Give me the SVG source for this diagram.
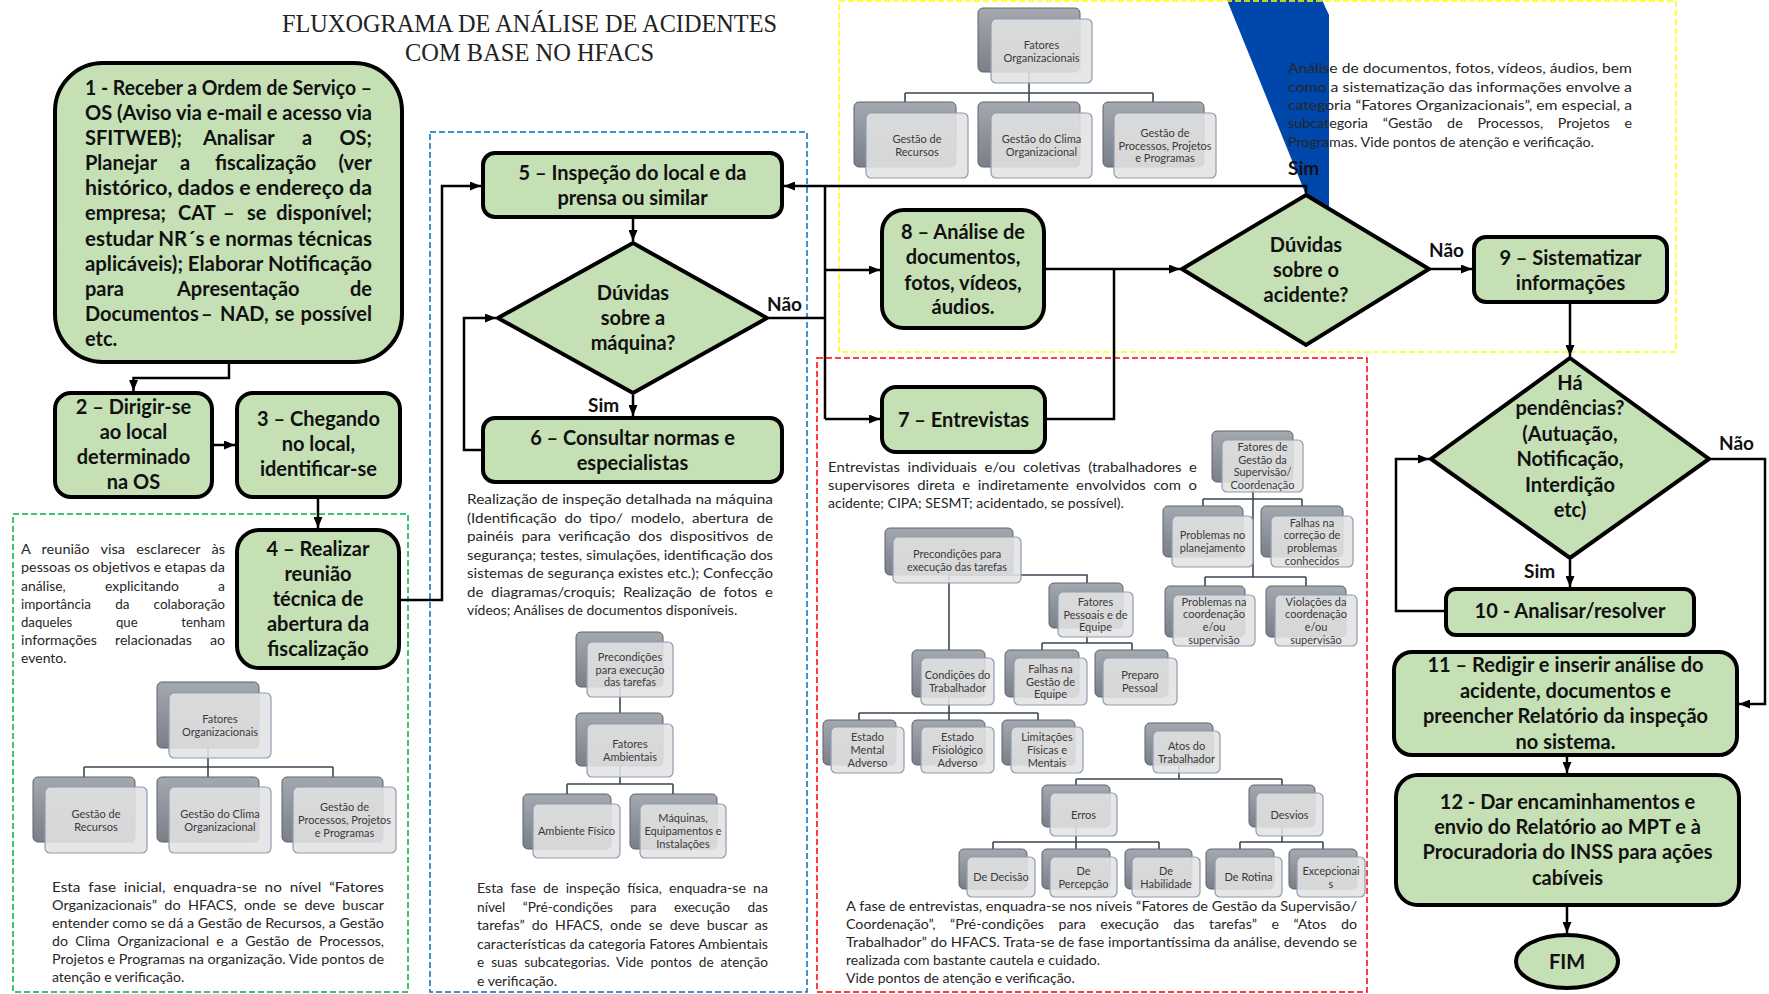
<svg xmlns="http://www.w3.org/2000/svg" width="1769" height="994" viewBox="0 0 1769 994">
<style>
.n{fill:#c5e0b4;stroke:#000;stroke-width:4}
.t{font-family:Lato,'Liberation Sans',sans-serif;font-weight:700;font-size:20px;fill:#111}
.c{text-anchor:middle}
.e{text-anchor:end}
.p{font-family:Lato,'Liberation Sans',sans-serif;font-size:14px;fill:#262626}
.lb{font-family:Lato,'Liberation Sans',sans-serif;font-weight:700;font-size:19px;fill:#111}
.k{fill:none;stroke:#000;stroke-width:2.5}
.ka{marker-end:url(#ah)}
.bk{fill:url(#gb);stroke:#5c636e;stroke-width:1}
.fr{fill:#e3e3e3;fill-opacity:.88;stroke:#8d9cb0;stroke-width:1.2}
.ct{font-family:Lato,'Liberation Sans',sans-serif;font-size:11px;fill:#3a3a3a;text-anchor:middle}
.cl{fill:none;stroke:#3b4654;stroke-width:1.6}
.db{fill:none;stroke-width:1.5;stroke-dasharray:6 3}
.ti{font-family:'Liberation Serif',serif;font-size:26px;fill:#222;text-anchor:middle}
</style>
<defs>
<linearGradient id="gb" x1="0" y1="0" x2="0" y2="1"><stop offset="0" stop-color="#a4a8af"/><stop offset="1" stop-color="#7a7f88"/></linearGradient>
<marker id="ah" markerUnits="userSpaceOnUse" markerWidth="11" markerHeight="9" refX="11" refY="4.5" orient="auto"><path d="M0,0 L11,4.5 L0,9 z" fill="#000"/></marker>
</defs>
<rect width="1769" height="994" fill="#fff"/>

<!-- blue decorative shape -->
<path d="M1227,0 L1322,0 L1329,15 L1329,215 L1306,195 Z" fill="#0047ab"/>

<!-- dashed regions -->
<rect class="db" x="839" y="1" width="837" height="351" stroke="#ffff00"/>
<rect class="db" x="13" y="514" width="395" height="478" stroke="#00b050"/>
<rect class="db" x="430" y="132" width="377" height="860" stroke="#0070c0"/>
<rect class="db" x="817" y="358" width="550" height="634" stroke="#ff0000"/>

<!-- title -->
<g id="title">
<text class="ti" x="529.5" y="32" textLength="495" lengthAdjust="spacingAndGlyphs">FLUXOGRAMA DE ANÁLISE DE ACIDENTES</text>
<text class="ti" x="529.5" y="61" textLength="249" lengthAdjust="spacingAndGlyphs">COM BASE NO HFACS</text>
</g>

<!-- paragraphs -->
<g id="text-yellow" class="p">
<text x="1288" y="73" textLength="344" lengthAdjust="spacingAndGlyphs">Análise de documentos, fotos, vídeos, áudios, bem</text>
<text x="1288" y="92" textLength="344" lengthAdjust="spacingAndGlyphs">como a sistematização das informações envolve a</text>
<text x="1288" y="110" textLength="344" lengthAdjust="spacingAndGlyphs">categoria “Fatores Organizacionais”, em especial, a</text>
<text x="1288" y="128" textLength="344" lengthAdjust="spacingAndGlyphs" xml:space="preserve">subcategoria    “Gestão    de    Processos,    Projetos    e</text>
<text x="1288" y="147" textLength="306" lengthAdjust="spacingAndGlyphs">Programas. Vide pontos de atenção e verificação.</text>
</g>

<g id="text-green" class="p">
<text x="21" y="554" textLength="204" lengthAdjust="spacingAndGlyphs" xml:space="preserve">A   reunião   visa   esclarecer   às</text>
<text x="21" y="572" textLength="204" lengthAdjust="spacingAndGlyphs">pessoas os objetivos e etapas da</text>
<text x="21" y="591" textLength="204" lengthAdjust="spacingAndGlyphs" xml:space="preserve">análise,           explicitando           a</text>
<text x="21" y="609" textLength="204" lengthAdjust="spacingAndGlyphs" xml:space="preserve">importância       da       colaboração</text>
<text x="21" y="627" textLength="204" lengthAdjust="spacingAndGlyphs" xml:space="preserve">daqueles             que             tenham</text>
<text x="21" y="645" textLength="204" lengthAdjust="spacingAndGlyphs" xml:space="preserve">informações     relacionadas     ao</text>
<text x="21" y="663">evento.</text>

<text x="52" y="892" textLength="332" lengthAdjust="spacingAndGlyphs" xml:space="preserve">Esta  fase  inicial,  enquadra-se  no  nível  “Fatores</text>
<text x="52" y="910" textLength="332" lengthAdjust="spacingAndGlyphs" xml:space="preserve">Organizacionais”  do  HFACS,  onde  se  deve  buscar</text>
<text x="52" y="928" textLength="332" lengthAdjust="spacingAndGlyphs">entender como se dá a Gestão de Recursos, a Gestão</text>
<text x="52" y="946" textLength="332" lengthAdjust="spacingAndGlyphs" xml:space="preserve">do  Clima  Organizacional  e  a  Gestão  de  Processos,</text>
<text x="52" y="964" textLength="332" lengthAdjust="spacingAndGlyphs">Projetos e Programas na organização. Vide pontos de</text>
<text x="52" y="982">atenção e verificação.</text>
</g>

<g id="text-blue" class="p">
<text x="467" y="504" textLength="306" lengthAdjust="spacingAndGlyphs">Realização de inspeção detalhada na máquina</text>
<text x="467" y="522.5" textLength="306" lengthAdjust="spacingAndGlyphs" xml:space="preserve">(Identificação  do  tipo/  modelo,  abertura  de</text>
<text x="467" y="541" textLength="306" lengthAdjust="spacingAndGlyphs" xml:space="preserve">painéis  para  verificação  dos  dispositivos  de</text>
<text x="467" y="559.5" textLength="306" lengthAdjust="spacingAndGlyphs">segurança; testes, simulações, identificação dos</text>
<text x="467" y="578" textLength="306" lengthAdjust="spacingAndGlyphs">sistemas de segurança existes etc.); Confecção</text>
<text x="467" y="596.5" textLength="306" lengthAdjust="spacingAndGlyphs" xml:space="preserve">de  diagramas/croquis;  Realização  de  fotos  e</text>
<text x="467" y="615">vídeos; Análises de documentos disponíveis.</text>

<text x="477" y="893" textLength="291" lengthAdjust="spacingAndGlyphs" xml:space="preserve">Esta  fase  de  inspeção  física,  enquadra-se  na</text>
<text x="477" y="911.5" textLength="291" lengthAdjust="spacingAndGlyphs" xml:space="preserve">nível     “Pré-condições     para     execução     das</text>
<text x="477" y="930" textLength="291" lengthAdjust="spacingAndGlyphs" xml:space="preserve">tarefas”  do  HFACS,  onde  se  deve  buscar  as</text>
<text x="477" y="948.5" textLength="291" lengthAdjust="spacingAndGlyphs">características da categoria Fatores Ambientais</text>
<text x="477" y="967" textLength="291" lengthAdjust="spacingAndGlyphs" xml:space="preserve">e  suas  subcategorias.  Vide  pontos  de  atenção</text>
<text x="477" y="985.5">e verificação.</text>
</g>

<g id="text-red" class="p">
<text x="828" y="472" textLength="369" lengthAdjust="spacingAndGlyphs" xml:space="preserve">Entrevistas  individuais  e/ou  coletivas  (trabalhadores  e</text>
<text x="828" y="490" textLength="369" lengthAdjust="spacingAndGlyphs" xml:space="preserve">supervisores  direta  e  indiretamente  envolvidos  com  o</text>
<text x="828" y="508">acidente; CIPA; SESMT; acidentado, se possível).</text>

<text x="846" y="911" textLength="511" lengthAdjust="spacingAndGlyphs">A fase de entrevistas, enquadra-se nos níveis “Fatores de Gestão da Supervisão/</text>
<text x="846" y="929" textLength="511" lengthAdjust="spacingAndGlyphs" xml:space="preserve">Coordenação”,    “Pré-condições    para    execução    das    tarefas”    e    “Atos    do</text>
<text x="846" y="947" textLength="511" lengthAdjust="spacingAndGlyphs">Trabalhador” do HFACS. Trata-se de fase importantíssima da análise, devendo se</text>
<text x="846" y="965">realizada com bastante cautela e cuidado.</text>
<text x="846" y="983">Vide pontos de atenção e verificação.</text>
</g>

<!-- HFACS chart lines -->
<g id="chart-lines" class="cl">
<path d="M208,748 V767 M84,767 H333 M84,767 V777 M208,767 V777 M333,767 V777"/>
<path d="M1029,72 V93 M905,93 H1153 M905,93 V102 M1029,93 V102 M1153,93 V102"/>
<path d="M620,687 V713 M620,766 V784 M567,784 H673 M567,784 V794 M673,784 V794"/>
<path d="M1253,482 V577 M1203,499 H1302 M1203,499 V506 M1302,499 V506 M1205,577 H1306 M1205,577 V586 M1306,577 V586"/>
<path d="M949,575 V713 M949,575 H1087 V583 M1087,628 V643 M1042,643 H1132 M1042,643 V650 M1132,643 V650 M859,713 H1038 M859,713 V720 M949,713 V720 M1038,713 V720"/>
<path d="M1179,765 V779 M1076,779 H1282 M1076,779 V785 M1282,779 V785 M1076,827 V842 M993,842 H1159 M993,842 V849 M1076,842 V849 M1159,842 V849 M1282,827 V842 M1240,842 H1323 M1240,842 V849 M1323,842 V849"/>
</g>

<!-- green chart -->
<g id="g-fo"><rect class="bk" x="157" y="682" width="102" height="66" rx="5"/><rect class="fr" x="169" y="693" width="102" height="65" rx="5"/><text class="ct" x="220" y="723">Fatores</text><text class="ct" x="220" y="736">Organizacionais</text></g>
<g id="g-gr"><rect class="bk" x="33" y="777" width="102" height="65" rx="5"/><rect class="fr" x="45" y="787" width="102" height="66" rx="5"/><text class="ct" x="96" y="817.5">Gestão de</text><text class="ct" x="96" y="830.5">Recursos</text></g>
<g id="g-gc"><rect class="bk" x="157" y="777" width="102" height="65" rx="5"/><rect class="fr" x="169" y="787" width="102" height="66" rx="5"/><text class="ct" x="220" y="817.5">Gestão do Clima</text><text class="ct" x="220" y="830.5">Organizacional</text></g>
<g id="g-gp"><rect class="bk" x="282" y="777" width="101" height="65" rx="5"/><rect class="fr" x="293" y="787" width="103" height="66" rx="5"/><text class="ct" x="344.5" y="811.3">Gestão de</text><text class="ct" x="344.5" y="824">Processos, Projetos</text><text class="ct" x="344.5" y="836.7">e Programas</text></g>

<!-- yellow chart -->
<g id="y-fo"><rect class="bk" x="978" y="8" width="102" height="64" rx="5"/><rect class="fr" x="991" y="19" width="101" height="64" rx="5"/><text class="ct" x="1041.5" y="48.5">Fatores</text><text class="ct" x="1041.5" y="61.5">Organizacionais</text></g>
<g id="y-gr"><rect class="bk" x="854" y="102" width="102" height="65" rx="5"/><rect class="fr" x="866" y="113" width="102" height="65" rx="5"/><text class="ct" x="917" y="143">Gestão de</text><text class="ct" x="917" y="156">Recursos</text></g>
<g id="y-gc"><rect class="bk" x="978" y="102" width="102" height="65" rx="5"/><rect class="fr" x="991" y="113" width="101" height="65" rx="5"/><text class="ct" x="1041.5" y="143">Gestão do Clima</text><text class="ct" x="1041.5" y="156">Organizacional</text></g>
<g id="y-gp"><rect class="bk" x="1103" y="102" width="101" height="65" rx="5"/><rect class="fr" x="1114" y="113" width="102" height="65" rx="5"/><text class="ct" x="1165" y="136.8">Gestão de</text><text class="ct" x="1165" y="149.5">Processos, Projetos</text><text class="ct" x="1165" y="162.2">e Programas</text></g>

<!-- blue chart -->
<g id="b-pre"><rect class="bk" x="576" y="632" width="87" height="55" rx="5"/><rect class="fr" x="587" y="642" width="86" height="55" rx="5"/><text class="ct" x="630" y="660.8">Precondições</text><text class="ct" x="630" y="673.5">para execução</text><text class="ct" x="630" y="686.2">das tarefas</text></g>
<g id="b-fa"><rect class="bk" x="576" y="713" width="87" height="53" rx="5"/><rect class="fr" x="587" y="724" width="86" height="53" rx="5"/><text class="ct" x="630" y="748">Fatores</text><text class="ct" x="630" y="761">Ambientais</text></g>
<g id="b-af"><rect class="bk" x="523" y="794" width="88" height="55" rx="5"/><rect class="fr" x="533" y="804" width="87" height="54" rx="5"/><text class="ct" x="576.5" y="835">Ambiente Físico</text></g>
<g id="b-mq"><rect class="bk" x="630" y="794" width="87" height="55" rx="5"/><rect class="fr" x="640" y="804" width="86" height="54" rx="5"/><text class="ct" x="683" y="822.3">Máquinas,</text><text class="ct" x="683" y="835">Equipamentos e</text><text class="ct" x="683" y="847.7">Instalações</text></g>

<!-- red charts -->
<g id="r-sup"><rect class="bk" x="1212" y="431" width="81" height="51" rx="5"/><rect class="fr" x="1222" y="440" width="81" height="52" rx="5"/><text class="ct" x="1262.5" y="451">Fatores de</text><text class="ct" x="1262.5" y="463.7">Gestão da</text><text class="ct" x="1262.5" y="476.3">Supervisão/</text><text class="ct" x="1262.5" y="489">Coordenação</text></g>
<g id="r-pp"><rect class="bk" x="1163" y="506" width="80" height="51" rx="5"/><rect class="fr" x="1172" y="516" width="81" height="51" rx="5"/><text class="ct" x="1212.5" y="539">Problemas no</text><text class="ct" x="1212.5" y="552">planejamento</text></g>
<g id="r-fc"><rect class="bk" x="1261" y="506" width="82" height="51" rx="5"/><rect class="fr" x="1271" y="516" width="82" height="51" rx="5"/><text class="ct" x="1312" y="526.5">Falhas na</text><text class="ct" x="1312" y="539.2">correção de</text><text class="ct" x="1312" y="551.8">problemas</text><text class="ct" x="1312" y="564.5">conhecidos</text></g>
<g id="r-pc"><rect class="bk" x="1165" y="586" width="80" height="51" rx="5"/><rect class="fr" x="1173" y="595" width="82" height="51" rx="5"/><text class="ct" x="1214" y="605.5">Problemas na</text><text class="ct" x="1214" y="618.2">coordenação</text><text class="ct" x="1214" y="630.8">e/ou</text><text class="ct" x="1214" y="643.5">supervisão</text></g>
<g id="r-vc"><rect class="bk" x="1266" y="586" width="80" height="51" rx="5"/><rect class="fr" x="1275" y="595" width="82" height="51" rx="5"/><text class="ct" x="1316" y="605.5">Violações da</text><text class="ct" x="1316" y="618.2">coordenação</text><text class="ct" x="1316" y="630.8">e/ou</text><text class="ct" x="1316" y="643.5">supervisão</text></g>
<g id="r-pre"><rect class="bk" x="885" y="528" width="128" height="47" rx="5"/><rect class="fr" x="893" y="537" width="128" height="46" rx="5"/><text class="ct" x="957" y="557.5">Precondições para</text><text class="ct" x="957" y="570.5">execução das tarefas</text></g>
<g id="r-fp"><rect class="bk" x="1049" y="583" width="74" height="45" rx="5"/><rect class="fr" x="1058" y="592" width="75" height="45" rx="5"/><text class="ct" x="1095.5" y="605.8">Fatores</text><text class="ct" x="1095.5" y="618.5">Pessoais e de</text><text class="ct" x="1095.5" y="631.2">Equipe</text></g>
<g id="r-fg"><rect class="bk" x="1005" y="650" width="74" height="47" rx="5"/><rect class="fr" x="1014" y="658" width="73" height="47" rx="5"/><text class="ct" x="1050.5" y="672.8">Falhas na</text><text class="ct" x="1050.5" y="685.5">Gestão de</text><text class="ct" x="1050.5" y="698.2">Equipe</text></g>
<g id="r-pr"><rect class="bk" x="1095" y="650" width="73" height="47" rx="5"/><rect class="fr" x="1103" y="658" width="74" height="47" rx="5"/><text class="ct" x="1140" y="679">Preparo</text><text class="ct" x="1140" y="692">Pessoal</text></g>
<g id="r-ct"><rect class="bk" x="912" y="650" width="73" height="47" rx="5"/><rect class="fr" x="921" y="658" width="73" height="47" rx="5"/><text class="ct" x="957.5" y="679">Condições do</text><text class="ct" x="957.5" y="692">Trabalhador</text></g>
<g id="r-em"><rect class="bk" x="823" y="720" width="73" height="45" rx="5"/><rect class="fr" x="831" y="727" width="73" height="46" rx="5"/><text class="ct" x="867.5" y="741.3">Estado</text><text class="ct" x="867.5" y="754">Mental</text><text class="ct" x="867.5" y="766.7">Adverso</text></g>
<g id="r-ef"><rect class="bk" x="912" y="720" width="73" height="45" rx="5"/><rect class="fr" x="921" y="727" width="73" height="46" rx="5"/><text class="ct" x="957.5" y="741.3">Estado</text><text class="ct" x="957.5" y="754">Fisiológico</text><text class="ct" x="957.5" y="766.7">Adverso</text></g>
<g id="r-lm"><rect class="bk" x="1002" y="720" width="73" height="45" rx="5"/><rect class="fr" x="1011" y="727" width="72" height="46" rx="5"/><text class="ct" x="1047" y="741.3">Limitações</text><text class="ct" x="1047" y="754">Físicas e</text><text class="ct" x="1047" y="766.7">Mentais</text></g>
<g id="r-at"><rect class="bk" x="1145" y="723" width="68" height="42" rx="5"/><rect class="fr" x="1153" y="731" width="67" height="42" rx="5"/><text class="ct" x="1186.5" y="749.5">Atos do</text><text class="ct" x="1186.5" y="762.5">Trabalhador</text></g>
<g id="r-er"><rect class="bk" x="1042" y="785" width="68" height="42" rx="5"/><rect class="fr" x="1050" y="793" width="67" height="43" rx="5"/><text class="ct" x="1083.5" y="818.5">Erros</text></g>
<g id="r-dv"><rect class="bk" x="1249" y="785" width="66" height="42" rx="5"/><rect class="fr" x="1256" y="793" width="67" height="43" rx="5"/><text class="ct" x="1289.5" y="818.5">Desvios</text></g>
<g id="r-dd"><rect class="bk" x="959" y="849" width="68" height="40" rx="5"/><rect class="fr" x="967" y="857" width="68" height="40" rx="5"/><text class="ct" x="1001" y="881">De Decisão</text></g>
<g id="r-dp"><rect class="bk" x="1042" y="849" width="68" height="40" rx="5"/><rect class="fr" x="1050" y="857" width="67" height="40" rx="5"/><text class="ct" x="1083.5" y="874.5">De</text><text class="ct" x="1083.5" y="887.5">Percepção</text></g>
<g id="r-dh"><rect class="bk" x="1125" y="849" width="67" height="40" rx="5"/><rect class="fr" x="1132" y="857" width="68" height="40" rx="5"/><text class="ct" x="1166" y="874.5">De</text><text class="ct" x="1166" y="887.5">Habilidade</text></g>
<g id="r-dr"><rect class="bk" x="1206" y="849" width="68" height="40" rx="5"/><rect class="fr" x="1215" y="857" width="67" height="40" rx="5"/><text class="ct" x="1248.5" y="881">De Rotina</text></g>
<g id="r-ex"><rect class="bk" x="1289" y="849" width="68" height="40" rx="5"/><rect class="fr" x="1297" y="857" width="68" height="40" rx="5"/><text class="ct" x="1331" y="874.5">Excepcionai</text><text class="ct" x="1331" y="887.5">s</text></g>

<!-- connectors -->
<g id="connectors" class="k">
<path class="ka" d="M229,364 V378 H133.5 V391"/>
<path class="ka" d="M214,445 H235"/>
<path class="ka" d="M318,499 V528"/>
<path class="ka" d="M401,600 H442 V186 H481"/>
<path class="ka" d="M633,219 V241"/>
<path class="ka" d="M633,395 V416"/>
<path class="ka" d="M481,450 H464 V318 H496"/>
<path d="M769,318 H825 M825,186 V419"/>
<path class="ka" d="M825,270 H880"/>
<path class="ka" d="M825,419 H880"/>
<path class="ka" d="M1306,193 V186 H784"/>
<path class="ka" d="M1046,269 H1180"/>
<path d="M1047,419 H1114 V269"/>
<path class="ka" d="M1431,269 H1472"/>
<path class="ka" d="M1570,304 V356"/>
<path class="ka" d="M1570,560 V587"/>
<path class="ka" d="M1444,611 H1396 V459 H1429"/>
<path class="ka" d="M1711,459 H1765 V704 H1739"/>
<path class="ka" d="M1567,757 V773"/>
<path class="ka" d="M1567,907 V933"/>
</g>

<!-- connector labels -->
<g id="labels" class="lb">
<text x="767" y="311">Não</text>
<text x="588" y="412">Sim</text>
<text x="1288" y="175">Sim</text>
<text x="1429" y="257">Não</text>
<text x="1719" y="450">Não</text>
<text x="1524" y="578">Sim</text>
</g>

<!-- flow nodes -->
<g id="node1">
<rect class="n" x="55" y="63" width="347" height="299" rx="48"/>
<g class="t">
<text x="85" y="95" textLength="287" lengthAdjust="spacingAndGlyphs">1 - Receber a Ordem de Serviço –</text>
<text x="85" y="120" textLength="287" lengthAdjust="spacingAndGlyphs">OS (Aviso via e-mail e acesso via</text>
<text y="145"><tspan x="85">SFITWEB);</tspan><tspan x="203">Analisar</tspan><tspan x="302">a</tspan></text>
<text x="372" y="145" class="e">OS;</text>
<text y="170"><tspan x="85">Planejar</tspan><tspan x="180">a</tspan><tspan x="215">fiscalização</tspan></text>
<text x="372" y="170" class="e">(ver</text>
<text x="85" y="195" textLength="287" lengthAdjust="spacingAndGlyphs">histórico, dados e  endereço da</text>
<text y="220"><tspan x="85">empresa;</tspan><tspan x="178">CAT</tspan><tspan x="223">–</tspan><tspan x="247">se</tspan></text>
<text x="372" y="220" class="e">disponível;</text>
<text x="85" y="245.5" textLength="287" lengthAdjust="spacingAndGlyphs">estudar NR´s e  normas técnicas</text>
<text x="85" y="271" textLength="287" lengthAdjust="spacingAndGlyphs">aplicáveis); Elaborar Notificação</text>
<text y="296"><tspan x="85">para</tspan><tspan x="177">Apresentação</tspan></text>
<text x="372" y="296" class="e">de</text>
<text y="321"><tspan x="85">Documentos</tspan><tspan x="201">–</tspan><tspan x="220">NAD,</tspan><tspan x="275">se</tspan></text>
<text x="372" y="321" class="e">possível</text>
<text x="85" y="346">etc.</text>
</g>
</g>

<g id="node2">
<rect class="n" x="55" y="393" width="157" height="104" rx="16"/>
<g class="t c"><text x="133.5" y="414">2 – Dirigir-se</text><text x="133.5" y="439">ao local</text><text x="133.5" y="464">determinado</text><text x="133.5" y="489">na OS</text></g>
</g>

<g id="node3">
<rect class="n" x="237" y="393" width="163" height="104" rx="16"/>
<g class="t c"><text x="318.5" y="426">3 – Chegando</text><text x="318.5" y="451">no local,</text><text x="318.5" y="476">identificar-se</text></g>
</g>

<g id="node4">
<rect class="n" x="237" y="530" width="162" height="138" rx="22"/>
<g class="t c"><text x="318" y="556">4 – Realizar</text><text x="318" y="581">reunião</text><text x="318" y="606">técnica de</text><text x="318" y="631">abertura da</text><text x="318" y="656">fiscalização</text></g>
</g>

<g id="node5">
<rect class="n" x="483" y="153" width="299" height="64" rx="12"/>
<g class="t c"><text x="632.5" y="180">5 – Inspeção do local e da</text><text x="632.5" y="205">prensa ou similar</text></g>
</g>

<g id="decision1">
<polygon class="n" points="633,243 767,318 633,393 498,318"/>
<g class="t c"><text x="633" y="300">Dúvidas</text><text x="633" y="325">sobre a</text><text x="633" y="350">máquina?</text></g>
</g>

<g id="node6">
<rect class="n" x="483" y="418" width="299" height="64" rx="12"/>
<g class="t c"><text x="632.5" y="445">6 – Consultar normas e</text><text x="632.5" y="470">especialistas</text></g>
</g>

<g id="node8">
<rect class="n" x="882" y="210" width="162" height="118" rx="22"/>
<g class="t c"><text x="963" y="239">8 – Análise de</text><text x="963" y="264">documentos,</text><text x="963" y="290">fotos, vídeos,</text><text x="963" y="314">áudios.</text></g>
</g>

<g id="node7">
<rect class="n" x="882" y="387" width="163" height="65" rx="14"/>
<text class="t c" x="963.5" y="427">7 – Entrevistas</text>
</g>

<g id="decision2">
<polygon class="n" points="1306,195 1429,269 1306,345 1182,269"/>
<g class="t c"><text x="1306" y="252">Dúvidas</text><text x="1306" y="277">sobre o</text><text x="1306" y="302">acidente?</text></g>
</g>

<g id="node9">
<rect class="n" x="1474" y="237" width="193" height="65" rx="12"/>
<g class="t c"><text x="1570.5" y="265">9 – Sistematizar</text><text x="1570.5" y="290">informações</text></g>
</g>

<g id="decision3">
<polygon class="n" points="1570,358 1709,459 1570,558 1431,459"/>
<g class="t c"><text x="1570" y="390">Há</text><text x="1570" y="415.4">pendências?</text><text x="1570" y="440.8">(Autuação,</text><text x="1570" y="466.2">Notificação,</text><text x="1570" y="491.6">Interdição</text><text x="1570" y="517">etc)</text></g>
</g>

<g id="node10">
<rect class="n" x="1446" y="589" width="248" height="46" rx="10"/>
<text class="t c" x="1570" y="618">10 - Analisar/resolver</text>
</g>

<g id="node11">
<rect class="n" x="1394" y="652" width="343" height="103" rx="18"/>
<g class="t c"><text x="1565.5" y="672">11 – Redigir e inserir análise do</text><text x="1565.5" y="698">acidente,  documentos e</text><text x="1565.5" y="723">preencher  Relatório da inspeção</text><text x="1565.5" y="749">no sistema.</text></g>
</g>

<g id="node12">
<rect class="n" x="1396" y="775" width="343" height="130" rx="22"/>
<g class="t c"><text x="1567.5" y="809">12 - Dar encaminhamentos e</text><text x="1567.5" y="834">envio do Relatório ao MPT e à</text><text x="1567.5" y="859">Procuradoria do INSS para ações</text><text x="1567.5" y="885">cabíveis</text></g>
</g>

<g id="fim">
<ellipse class="n" cx="1567" cy="961.5" rx="51" ry="26.5"/>
<text class="t c" x="1567" y="968.5">FIM</text>
</g>
</svg>
